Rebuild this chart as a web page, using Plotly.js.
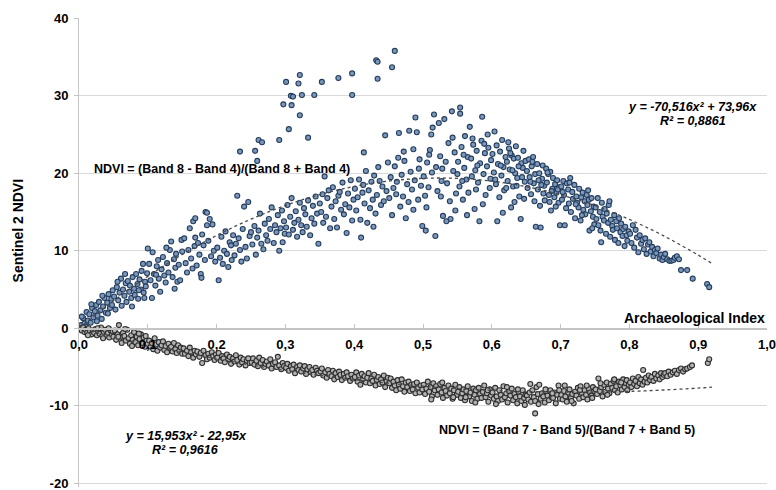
<!DOCTYPE html>
<html>
<head>
<meta charset="utf-8">
<script src="https://cdn.plot.ly/plotly-3.0.1.min.js"></script>
<style>html,body{margin:0;padding:0;background:#fff;}#chart{width:776px;height:490px;}</style>
</head>
<body>
<div id="chart"></div>
<script>
// Archaeological Index (x) vs Sentinel 2 NDVI (y), NDVI = (B8-B4)/(B8+B4)
const ndvi84X = [
0.003,0.006,0.008,0.011,0.013,0.015,0.017,0.019,0.021,0.023,
0.025,0.027,0.029,0.031,0.033,0.035,0.037,0.039,0.041,0.043,
0.045,0.047,0.049,0.004,0.010,0.018,0.026,0.034,0.042,0.048,
0.051,0.053,0.055,0.057,0.059,0.061,0.062,0.064,0.066,0.068,
0.069,0.071,0.073,0.074,0.076,0.078,0.080,0.081,0.083,0.085,
0.086,0.088,0.090,0.091,0.093,0.094,0.096,0.097,0.099,0.100,
0.056,0.067,0.077,0.087,0.095,
0.102,0.104,0.106,0.107,0.109,0.111,0.113,0.115,0.116,0.118,
0.120,0.122,0.124,0.126,0.128,0.130,0.132,0.134,0.136,0.138,
0.140,0.141,0.143,0.145,0.147,0.149,0.150,0.112,0.127,0.139,
0.153,0.155,0.157,0.159,0.161,0.163,0.165,0.166,0.168,0.169,
0.171,0.173,0.175,0.177,0.179,0.181,0.183,0.184,0.186,0.188,
0.190,0.192,0.194,0.196,0.198,0.186,0.169,0.178,
0.201,0.203,0.205,0.207,0.209,0.211,0.213,0.215,0.217,0.219,
0.221,0.222,0.224,0.226,0.228,0.230,0.232,0.234,0.236,0.238,
0.240,0.242,0.244,0.246,0.248,0.250,
0.234,0.256,0.259,0.261,0.266,
0.252,0.255,0.257,0.259,0.261,0.263,0.265,0.268,0.270,0.272,
0.274,0.276,0.278,0.280,0.283,0.285,0.287,0.289,0.291,0.293,
0.295,0.296,0.298,0.299,
0.301,0.303,0.305,0.307,0.309,0.311,0.313,0.315,0.317,0.319,
0.321,0.323,0.325,0.327,0.329,0.331,0.333,0.336,0.338,0.340,
0.342,0.344,0.346,0.348,0.350,
0.459,0.432,0.434,0.455,0.434,0.397,0.377,0.353,0.321,0.319,
0.301,0.308,0.311,0.324,0.342,0.397,0.297,0.309,0.321,0.305,
0.333,0.291,
0.352,0.354,0.355,0.357,0.359,0.361,0.363,0.365,0.367,0.369,
0.371,0.373,0.375,0.377,0.379,0.381,0.383,0.385,0.387,0.389,
0.391,0.393,0.395,0.397,0.399,
0.401,0.403,0.405,0.407,0.409,0.410,0.412,0.413,0.415,0.417,
0.419,0.421,0.423,0.425,0.427,0.429,0.431,0.433,0.435,0.437,
0.439,0.441,0.443,0.445,0.447,0.449,0.414,0.428,
0.451,0.453,0.455,0.457,0.459,0.461,0.462,0.464,0.465,0.467,
0.469,0.471,0.473,0.475,0.477,0.479,0.480,0.482,0.484,0.486,
0.488,0.489,0.491,0.493,0.495,0.497,0.499,0.472,0.486,0.494,
0.501,0.503,0.504,0.506,0.508,0.510,0.512,0.514,0.516,0.518,
0.519,0.521,0.523,0.525,0.527,0.529,0.531,0.533,0.535,0.537,
0.539,0.540,0.542,0.544,0.546,0.548,0.550,0.505,0.513,0.526,
0.534,0.543,0.509,0.528,0.547,
0.551,0.553,0.554,0.554,0.556,0.558,0.560,0.561,0.563,0.565,
0.566,0.568,0.570,0.571,0.573,0.575,0.576,0.578,0.580,0.582,
0.583,0.585,0.586,0.588,0.590,0.591,0.593,0.595,0.597,0.599,
0.557,0.564,0.572,0.579,0.587,0.594,0.559,0.577,0.589,0.598,
0.601,0.603,0.604,0.606,0.607,0.609,0.611,0.612,0.614,0.615,
0.617,0.618,0.620,0.622,0.623,0.625,0.626,0.628,0.629,0.631,
0.632,0.634,0.635,0.637,0.638,0.640,0.642,0.643,0.645,0.646,
0.648,0.649,0.605,0.613,0.621,0.627,0.633,0.639,0.644,0.616,
0.624,0.636,0.647,0.608,0.630,
0.651,0.652,0.654,0.655,0.657,0.658,0.660,0.661,0.663,0.664,
0.666,0.667,0.669,0.670,0.671,0.673,0.674,0.676,0.677,0.679,
0.680,0.682,0.683,0.685,0.686,0.688,0.689,0.691,0.692,0.694,
0.695,0.697,0.698,0.699,0.656,0.662,0.668,0.675,0.681,0.687,
0.693,0.659,0.672,0.684,0.696,
0.701,0.702,0.704,0.705,0.706,0.708,0.709,0.711,0.712,0.714,
0.715,0.717,0.718,0.720,0.721,0.723,0.724,0.726,0.727,0.729,
0.730,0.732,0.733,0.735,0.736,0.738,0.739,0.741,0.742,0.744,
0.745,0.747,0.748,0.749,0.703,0.713,0.722,0.731,0.740,0.746,
0.751,0.752,0.754,0.755,0.757,0.758,0.760,0.761,0.763,0.764,
0.766,0.767,0.769,0.770,0.772,0.773,0.775,0.776,0.778,0.779,
0.781,0.782,0.784,0.785,0.787,0.788,0.790,0.791,0.793,0.794,
0.796,0.797,0.799,0.759,0.771,
0.801,0.803,0.805,0.807,0.809,0.811,0.813,0.815,0.817,0.819,
0.821,0.823,0.825,0.827,0.829,0.831,0.833,0.835,0.837,0.839,
0.841,0.844,0.846,0.848,0.850,
0.852,0.855,0.858,0.861,0.864,0.866,0.869,0.872,0.875,0.884,
0.892,0.913,0.916
];
const ndvi84Y = [
0.4,1.3,0.6,2.1,1.0,1.8,0.7,2.6,1.4,2.2,
3.0,1.6,3.4,2.3,1.2,2.8,3.9,2.0,3.3,4.4,
2.6,3.8,4.9,1.5,0.2,3.1,0.9,4.2,1.9,3.0,
4.1,2.4,5.3,3.6,4.6,6.4,2.9,5.0,4.2,5.8,
3.4,6.1,4.7,5.5,3.9,6.6,5.1,4.3,7.0,5.7,
3.8,6.3,5.0,7.4,8.3,4.6,6.0,5.4,7.1,10.3,
6.0,7.0,2.8,4.9,3.9,
8.3,6.2,3.9,9.8,7.0,5.5,8.0,8.8,6.4,4.7,
7.6,9.2,6.8,5.9,8.4,7.2,10.1,11.2,6.6,8.9,
7.8,9.6,6.0,8.2,6.2,11.4,9.9,6.9,10.4,5.1,
11.6,8.4,7.2,10.1,12.9,9.0,7.7,13.8,10.6,14.2,
8.1,11.0,9.5,7.0,12.1,10.7,8.8,15.0,14.9,11.3,
14.1,9.3,13.4,10.0,8.6,13.3,11.7,6.5,
10.4,6.2,9.1,11.8,8.3,10.0,12.5,9.6,7.9,11.1,
10.7,8.8,12.0,9.4,10.9,17.1,11.6,10.1,8.6,12.8,
15.7,10.5,9.0,16.3,11.9,12.4,
22.8,22.9,21.6,24.3,24.0,
10.8,13.2,9.5,11.7,12.6,14.8,10.9,10.2,13.5,12.0,
11.3,14.1,12.8,15.6,11.0,13.3,12.4,14.6,10.0,12.9,
15.2,11.1,13.8,12.2,
13.0,15.9,12.1,14.4,16.8,12.7,13.6,15.1,11.8,14.0,
16.2,13.3,12.4,15.5,14.7,13.1,16.5,12.0,14.2,15.8,
13.5,17.0,14.8,10.9,16.1,
35.8,34.6,34.4,33.7,32.2,32.9,32.3,31.8,32.7,31.6,
31.8,30.0,29.9,30.1,30.1,30.1,28.9,28.8,27.5,25.7,
24.6,24.3,
15.0,17.3,13.6,19.6,14.4,16.8,17.8,12.9,15.7,18.2,
14.1,16.4,13.0,17.1,17.6,15.3,18.8,14.7,16.0,12.3,
17.4,15.6,19.1,13.9,16.6,
18.0,15.2,16.9,19.2,14.0,11.7,17.5,18.5,16.1,20.3,
13.6,17.8,15.5,18.9,16.6,19.7,14.8,17.2,20.8,19.0,
15.9,18.3,16.4,24.9,17.7,21.4,22.7,13.1,
16.8,19.5,14.6,18.1,20.9,17.3,18.9,22.0,25.2,15.7,
19.8,17.0,21.6,14.2,18.6,16.3,25.5,20.2,17.9,23.1,
19.1,27.2,25.3,16.6,21.8,18.4,13.2,22.8,15.3,20.6,
19.6,17.1,12.6,21.4,18.2,23.0,25.0,25.9,27.6,11.9,
20.8,17.7,26.5,22.2,19.0,14.5,27.0,21.5,18.7,23.9,
16.4,14.1,28.0,20.3,22.7,17.4,19.9,15.6,20.1,17.0,
13.8,24.6,22.4,20.6,15.2,
21.5,18.3,28.5,27.7,23.4,16.6,20.7,24.8,19.2,22.1,
17.5,26.0,21.9,19.6,23.7,15.4,20.4,22.9,18.8,13.8,
21.3,24.2,27.3,19.9,22.6,17.2,20.9,23.3,18.1,21.7,
19.0,14.6,24.5,21.0,16.0,25.0,22.4,17.9,23.8,19.3,
22.5,20.1,25.4,18.6,23.6,21.2,16.9,22.8,19.7,24.3,
20.8,17.8,22.1,21.5,19.0,23.2,20.5,15.6,22.3,18.3,
21.9,20.0,23.5,19.4,22.0,17.0,14.1,21.3,20.7,22.9,
18.9,21.6,19.2,21.0,18.1,22.6,16.3,20.9,19.5,14.9,
24.0,18.4,16.7,13.8,20.4,
20.3,18.1,21.8,19.5,17.3,20.9,22.1,18.7,19.9,13.1,
21.2,17.9,20.0,15.8,13.0,19.3,21.0,18.4,16.5,20.6,
18.8,19.9,17.2,20.2,15.2,18.0,19.4,16.9,18.6,17.5,
19.1,16.2,18.2,13.3,18.9,16.4,19.1,17.4,20.1,17.7,
15.7,21.5,18.5,16.3,17.9,
18.3,16.6,19.0,17.2,13.3,15.5,18.7,17.9,16.1,19.4,
15.0,17.6,16.7,18.5,14.2,17.0,16.2,15.6,18.0,13.9,
16.9,17.5,15.3,16.4,14.7,17.2,15.9,16.6,12.6,15.1,
16.8,14.4,15.7,13.4,17.6,18.8,16.0,14.6,17.8,12.9,
15.6,14.1,16.8,13.3,15.0,12.6,16.2,14.4,13.9,15.4,
12.2,14.8,13.6,15.9,11.8,14.0,13.2,12.7,14.6,11.4,
13.8,12.9,11.0,14.2,12.4,13.5,11.9,12.8,10.6,13.1,
12.0,11.3,12.5,11.1,16.4,
12.2,11.0,13.3,10.4,12.7,11.7,9.8,12.0,10.9,11.4,
10.2,11.6,9.6,10.8,11.1,9.9,10.5,9.3,10.1,9.7,
10.3,9.0,9.5,8.8,9.2,
9.6,8.9,8.7,8.7,8.8,9.1,9.3,8.9,7.5,7.5,
6.4,5.7,5.3
];

// NDVI = (B7-B5)/(B7+B5)
const ndvi75X = [
0.002,0.004,0.006,0.008,0.010,0.012,0.014,0.016,0.018,0.020,
0.022,0.024,0.026,0.028,0.030,0.032,0.034,0.036,0.038,0.040,
0.042,0.044,0.046,0.048,0.050,0.013,0.027,0.035,0.043,0.049,
0.052,0.054,0.056,0.058,0.060,0.062,0.064,0.066,0.068,0.070,
0.072,0.074,0.076,0.078,0.080,0.082,0.084,0.086,0.088,0.090,
0.092,0.094,0.096,0.098,0.100,0.057,0.067,0.077,0.087,0.097,
0.102,0.104,0.106,0.108,0.110,0.112,0.114,0.116,0.118,0.120,
0.122,0.124,0.126,0.128,0.130,0.132,0.134,0.136,0.138,0.140,
0.142,0.144,0.146,0.148,0.150,
0.152,0.154,0.157,0.159,0.161,0.163,0.166,0.168,0.170,0.172,
0.175,0.177,0.179,0.181,0.184,0.186,0.188,0.190,0.193,0.195,
0.197,0.199,
0.201,0.203,0.206,0.208,0.210,0.212,0.215,0.217,0.219,0.221,
0.224,0.226,0.228,0.230,0.233,0.235,0.237,0.239,0.242,0.244,
0.246,0.248,
0.251,0.253,0.255,0.258,0.260,0.262,0.264,0.267,0.269,0.271,
0.273,0.276,0.278,0.280,0.282,0.285,0.287,0.289,0.291,0.294,
0.296,0.298,
0.301,0.303,0.305,0.308,0.310,0.312,0.314,0.317,0.319,0.321,
0.323,0.326,0.328,0.330,0.332,0.335,0.337,0.339,0.341,0.344,
0.346,0.348,
0.351,0.353,0.355,0.358,0.360,0.362,0.364,0.367,0.369,0.371,
0.373,0.376,0.378,0.380,0.382,0.385,0.387,0.389,0.391,0.394,
0.396,0.398,
0.401,0.403,0.405,0.407,0.409,0.411,0.413,0.415,0.417,0.419,
0.421,0.423,0.425,0.427,0.429,0.431,0.433,0.435,0.437,0.439,
0.441,0.443,0.445,0.447,0.449,
0.451,0.453,0.455,0.457,0.459,0.461,0.463,0.465,0.467,0.469,
0.471,0.473,0.475,0.477,0.479,0.481,0.483,0.485,0.487,0.489,
0.491,0.493,0.495,0.497,0.499,
0.501,0.503,0.505,0.507,0.509,0.511,0.513,0.515,0.517,0.519,
0.521,0.523,0.525,0.527,0.529,0.531,0.533,0.535,0.537,0.539,
0.541,0.543,0.545,0.547,0.549,0.512,0.528,0.544,
0.551,0.553,0.555,0.557,0.559,0.561,0.563,0.565,0.567,0.569,
0.571,0.573,0.575,0.577,0.579,0.581,0.583,0.585,0.587,0.589,
0.591,0.593,0.595,0.597,0.599,0.562,0.576,0.594,
0.601,0.603,0.605,0.607,0.609,0.611,0.613,0.615,0.617,0.619,
0.621,0.623,0.625,0.627,0.629,0.631,0.633,0.635,0.637,0.639,
0.641,0.643,0.645,0.647,0.649,0.606,0.622,0.638,0.648,0.663,
0.651,0.653,0.655,0.657,0.659,0.661,0.663,0.665,0.667,0.669,
0.671,0.673,0.675,0.677,0.679,0.681,0.683,0.685,0.687,0.689,
0.691,0.693,0.695,0.697,0.699,0.656,0.668,0.678,0.688,0.698,
0.701,0.703,0.705,0.707,0.709,0.711,0.713,0.715,0.717,0.719,
0.721,0.723,0.725,0.727,0.729,0.731,0.733,0.735,0.737,0.739,
0.741,0.743,0.745,0.747,0.749,0.706,0.716,0.728,0.738,0.746,
0.751,0.753,0.755,0.757,0.759,0.761,0.763,0.765,0.767,0.769,
0.771,0.773,0.775,0.777,0.779,0.781,0.783,0.785,0.787,0.789,
0.791,0.793,0.795,0.797,0.799,0.758,0.768,0.778,0.788,0.796,
0.801,0.803,0.805,0.807,0.809,0.811,0.813,0.815,0.817,0.819,
0.820,0.822,0.824,0.826,0.828,0.830,0.832,0.835,0.837,0.839,
0.842,0.844,0.846,0.848,0.850,
0.852,0.855,0.857,0.860,0.863,0.866,0.869,0.872,0.875,0.878,
0.881,0.884,0.888,0.891,0.914,0.916
];
const ndvi75Y = [
0.0,-0.3,0.1,-0.5,-0.2,-0.6,0.0,-0.4,-0.8,-0.3,
-0.6,-0.1,-0.9,-0.4,-0.7,0.1,-1.0,-0.5,-0.2,-0.9,
-0.6,-1.2,-0.3,-0.8,-1.1,-0.9,0.0,-1.3,0.0,-0.4,
-0.3,-1.5,-0.8,0.4,-1.2,-1.9,-0.6,-1.0,-1.6,-0.2,
-1.3,-2.0,-0.9,-1.5,-0.5,-1.8,-1.1,-2.2,-1.4,-0.8,
-1.9,-1.2,-2.4,-1.6,-2.0,-1.1,-0.1,-2.3,-0.7,-1.0,
-1.6,-2.4,-1.9,-2.7,-1.3,-2.1,-2.9,-1.8,-2.5,-2.2,
-1.7,-2.8,-2.3,-3.1,-2.0,-2.6,-2.4,-3.0,-1.9,-2.7,
-3.2,-2.2,-2.9,-2.5,-3.3,
-2.6,-3.3,-2.9,-3.6,-2.5,-3.1,-3.8,-2.9,-3.4,-3.0,
-3.7,-3.2,-4.5,-2.9,-3.5,-4.0,-3.3,-3.8,-3.1,-3.6,
-4.1,-3.4,
-3.8,-3.2,-4.2,-3.6,-3.9,-4.4,-3.4,-4.0,-3.7,-4.6,
-3.9,-4.3,-3.5,-4.1,-4.7,-3.8,-4.4,-4.0,-4.8,-4.2,
-3.9,-4.5,
-4.4,-3.9,-4.7,-4.2,-4.9,-3.8,-4.5,-4.1,-5.0,-4.6,
-4.3,-4.8,-4.0,-5.2,-4.6,-4.4,-5.0,-3.7,-4.8,-5.3,
-4.5,-4.9,
-5.1,-4.6,-5.5,-4.9,-5.3,-4.7,-5.8,-5.0,-5.4,-4.8,
-5.6,-5.2,-4.9,-5.9,-5.3,-5.0,-5.7,-5.4,-6.0,-5.1,
-5.5,-5.8,
-5.6,-5.2,-6.1,-5.7,-6.4,-5.4,-5.9,-6.2,-5.5,-6.6,
-5.8,-6.3,-5.6,-6.0,-6.7,-5.9,-6.4,-5.7,-6.2,-6.8,
-6.0,-6.5,
-6.3,-5.7,-6.9,-6.1,-7.3,-5.9,-6.6,-6.2,-7.0,-6.4,
-5.8,-7.1,-6.5,-6.8,-6.0,-7.4,-6.7,-6.3,-7.2,-6.6,
-7.0,-6.1,-7.6,-6.8,-6.4,
-7.1,-6.5,-7.7,-6.9,-7.4,-8.0,-6.7,-7.3,-7.8,-6.6,
-7.5,-8.2,-7.0,-7.6,-6.9,-8.1,-7.3,-7.9,-7.2,-8.4,
-7.0,-7.7,-8.3,-7.4,-7.9,
-7.3,-8.5,-7.8,-6.9,-8.2,-7.6,-8.8,-7.1,-8.0,-7.5,
-8.6,-7.9,-7.2,-8.3,-9.0,-7.7,-8.1,-8.7,-7.4,-8.4,
-7.8,-9.1,-8.0,-7.3,-8.6,-9.2,-7.0,-8.9,
-8.2,-7.6,-9.0,-8.4,-7.9,-9.3,-8.1,-7.5,-8.8,-8.3,
-9.4,-7.8,-8.6,-8.0,-9.1,-7.7,-8.5,-9.0,-8.2,-7.4,
-8.9,-8.4,-9.5,-7.9,-8.7,-8.9,-9.6,-8.0,
-8.3,-9.1,-7.7,-8.8,-9.4,-8.0,-8.6,-9.2,-7.5,-8.9,
-8.4,-9.6,-8.1,-8.7,-7.8,-9.3,-8.5,-8.9,-9.7,-8.2,
-8.8,-9.4,-8.0,-9.0,-8.6,-9.8,-7.6,-7.9,-9.9,-11.0,
-8.7,-9.2,-8.3,-9.5,-8.0,-8.9,-9.4,-7.6,-8.5,-7.3,
-9.1,-8.4,-8.8,-9.6,-8.2,-8.7,-9.3,-8.0,-8.9,-9.0,
-8.3,-9.7,-8.6,-7.4,-9.1,-7.2,-9.8,-7.9,-8.4,-8.0,
-8.6,-9.2,-8.1,-8.8,-9.5,-8.3,-7.9,-9.0,-8.5,-9.7,
-8.2,-8.7,-7.7,-9.1,-7.5,-8.4,-8.9,-8.0,-8.6,-9.2,
-7.8,-8.3,-8.7,-7.6,-8.1,-7.4,-9.4,-8.0,-7.4,-9.0,
-7.9,-8.5,-6.5,-8.1,-7.6,-8.8,-7.3,-8.2,-7.0,-7.8,
-8.4,-7.2,-7.7,-6.8,-8.0,-7.5,-8.3,-6.9,-7.4,-7.9,
-6.6,-7.6,-7.1,-8.0,-7.3,-7.1,-8.6,-6.6,-7.0,-6.7,
-7.0,-7.6,-6.5,-7.2,-6.8,-7.5,-6.3,-7.1,-6.6,-7.3,
-5.4,-6.9,-6.4,-7.0,-6.1,-6.7,-6.3,-6.8,-5.9,-6.5,
-6.1,-6.6,-5.8,-6.3,-6.0,
-5.8,-6.2,-5.6,-6.0,-5.7,-5.5,-5.9,-5.4,-5.2,-5.6,
-5.3,-5.2,-5.0,-4.8,-4.5,-4.0
];

// Polynomial trendlines
const trendX = [0,0.05,0.1,0.15,0.2,0.25,0.3,0.35,0.4,0.45,0.5,0.55,0.6,0.65,0.7,0.75,0.8,0.85,0.9,0.92];
const trend84Y = [0,3.52,6.69,9.51,11.97,14.08,15.84,17.25,18.30,19.00,19.35,19.35,18.99,18.28,17.22,15.81,14.04,11.92,9.44,8.36];
const trend75Y = [0,-1.11,-2.14,-3.08,-3.95,-4.74,-5.45,-6.08,-6.63,-7.10,-7.49,-7.80,-8.03,-8.18,-8.25,-8.24,-8.15,-7.98,-7.73,-7.61];

const xTickVals = [0,0.1,0.2,0.3,0.4,0.5,0.6,0.7,0.8,0.9,1.0];
const xTickText = ['0,0','0,1','0,2','0,3','0,4','0,5','0,6','0,7','0,8','0,9','1,0'];
const yTickVals = [-20,-10,0,10,20,30,40];
const yTickText = ['-20','-10','0','10','20','30','40'];
const xRange = [0,1.0];
const yRange = [-20.5,40.05];

const FONT = 'Liberation Sans, Arial, sans-serif';

const traces = [
  {type:'scatter', mode:'markers', x:ndvi84X, y:ndvi84Y, name:'NDVI B8-B4',
   marker:{size:5, color:'#7c97bc', line:{color:'#243d5c', width:1.1}}},
  {type:'scatter', mode:'markers', x:ndvi75X, y:ndvi75Y, name:'NDVI B7-B5',
   marker:{size:5, color:'#b3b3b3', line:{color:'#2e2e2e', width:1.1}}},
  {type:'scatter', mode:'lines', x:trendX, y:trend84Y, line:{color:'#4a4a4a', width:1.3, dash:'3px,3px', shape:'spline'}, hoverinfo:'skip'},
  {type:'scatter', mode:'lines', x:trendX, y:trend75Y, line:{color:'#4a4a4a', width:1.3, dash:'3px,3px', shape:'spline'}, hoverinfo:'skip'}
];

const zeroPos = (0 - yRange[0]) / (yRange[1] - yRange[0]);
const annFont = {family:FONT, size:12.5, color:'#000', weight:'bold'};
const eqFont = {family:FONT, size:12.5, color:'#000', weight:'bold', style:'italic'};

const layout = {
  width:776, height:490,
  margin:{l:79, r:9, t:18, b:3},
  paper_bgcolor:'#ffffff', plot_bgcolor:'#ffffff',
  showlegend:false,
  separators:', ',
  xaxis:{range:xRange, tickvals:xTickVals, ticktext:xTickText,
    anchor:'free', position:zeroPos,
    showline:true, linecolor:'#c4c4c4', linewidth:1.5,
    ticks:'inside', ticklen:4, tickcolor:'#c4c4c4', tickwidth:1,
    showgrid:false, zeroline:false, ticklabelstandoff:4, ticklabeloverflow:'allow',
    tickfont:{family:FONT, size:13, color:'#000', weight:'bold'}},
  yaxis:{range:yRange, tickvals:yTickVals, ticktext:yTickText,
    showline:true, linecolor:'#c4c4c4', linewidth:1,
    ticks:'outside', ticklen:4, tickcolor:'#c4c4c4',
    showgrid:true, gridcolor:'#d9d9d9', gridwidth:1, zeroline:false,
    ticklabelstandoff:3, ticklabeloverflow:'allow',
    tickfont:{family:FONT, size:13, color:'#000', weight:'bold'}},
  annotations:[
    {xref:'paper', yref:'y', x:-0.089, y:12.6, text:'Sentinel 2 NDVI', textangle:-90, showarrow:false,
     xanchor:'center', yanchor:'middle', font:{family:FONT, size:14, color:'#000', weight:'bold'}},
    {xref:'x', yref:'y', x:1.0, y:1.3, text:'Archaeological Index', showarrow:false,
     xanchor:'right', yanchor:'middle', font:{family:FONT, size:14, color:'#000', weight:'bold'}},
    {xref:'x', yref:'y', x:0.019, y:20.6, text:'NDVI = (Band 8 - Band 4)/(Band 8 + Band 4)', showarrow:false,
     xanchor:'left', yanchor:'middle', font:annFont},
    {xref:'x', yref:'y', x:0.520, y:-13.2, text:'NDVI = (Band 7 - Band 5)/(Band 7 + Band 5)', showarrow:false,
     xanchor:'left', yanchor:'middle', font:annFont},
    {xref:'x', yref:'y', x:0.892, y:28.6, text:'y = -70,516x² + 73,96x', showarrow:false,
     xanchor:'center', yanchor:'middle', font:eqFont},
    {xref:'x', yref:'y', x:0.892, y:26.8, text:'R² = 0,8861', showarrow:false,
     xanchor:'center', yanchor:'middle', font:eqFont},
    {xref:'x', yref:'y', x:0.155, y:-13.9, text:'y = 15,953x² - 22,95x', showarrow:false,
     xanchor:'center', yanchor:'middle', font:eqFont},
    {xref:'x', yref:'y', x:0.155, y:-15.7, text:'R² = 0,9616', showarrow:false,
     xanchor:'center', yanchor:'middle', font:eqFont}
  ]
};

Plotly.newPlot('chart', traces, layout, {staticPlot:true, displayModeBar:false});
</script>
</body>
</html>
